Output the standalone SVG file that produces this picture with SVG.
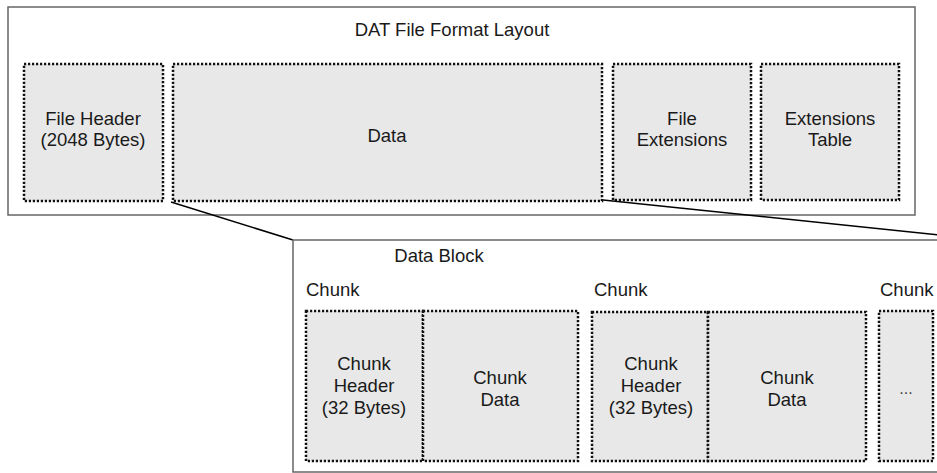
<svg xmlns="http://www.w3.org/2000/svg" width="937" height="473" viewBox="0 0 937 473">
<style>
  .frame { fill: #ffffff; stroke: #666666; stroke-width: 1.5; }
  .box { fill: #e8e8e8; stroke: #111111; stroke-width: 2.5; stroke-dasharray: 2.2 1.8; }
  .t { font-family: "Liberation Sans", Arial, sans-serif; font-size: 18.5px; fill: #1a1a1a; text-anchor: middle; }
  .tl { font-family: "Liberation Sans", Arial, sans-serif; font-size: 18.5px; fill: #1a1a1a; text-anchor: start; }
  .dots { font-family: "Liberation Sans", Arial, sans-serif; font-size: 16px; fill: #444444; text-anchor: middle; }
  .conn { stroke: #000000; stroke-width: 1.5; fill: none; }
</style>
<rect width="937" height="473" fill="#ffffff"/>

<g id="file-layout">
  <rect class="frame" x="8" y="7" width="907" height="208"/>
  <text class="t" x="452" y="36">DAT File Format Layout</text>
</g>
<g id="file-header">
  <rect class="box" x="24" y="64" width="139" height="137"/>
  <text class="t" x="93" y="125">File Header</text>
  <text class="t" x="93" y="146">(2048 Bytes)</text>
</g>
<g id="data">
  <rect class="box" x="173" y="64" width="429" height="137"/>
  <text class="t" x="387" y="142">Data</text>
</g>
<g id="file-extensions">
  <rect class="box" x="613" y="64" width="138" height="136"/>
  <text class="t" x="682" y="125">File</text>
  <text class="t" x="682" y="146">Extensions</text>
</g>
<g id="extensions-table">
  <rect class="box" x="761" y="64" width="138" height="136"/>
  <text class="t" x="830" y="125">Extensions</text>
  <text class="t" x="830" y="146">Table</text>
</g>

<g id="connectors">
  <line class="conn" x1="171" y1="202" x2="293" y2="240"/>
  <line class="conn" x1="603" y1="200" x2="940" y2="235"/>
</g>

<g id="data-block">
  <rect class="frame" x="293" y="240" width="660" height="232"/>
  <text class="t" x="439" y="262">Data Block</text>
</g>
<g id="chunk-1">
  <text class="tl" x="306" y="296">Chunk</text>
  <g id="chunk-1-header">
    <rect class="box" x="306" y="311" width="117" height="150"/>
    <text class="t" x="364" y="370">Chunk</text>
    <text class="t" x="364" y="392">Header</text>
    <text class="t" x="364" y="414">(32 Bytes)</text>
  </g>
  <g id="chunk-1-data">
    <rect class="box" x="423" y="311" width="155" height="150"/>
    <text class="t" x="500" y="384">Chunk</text>
    <text class="t" x="500" y="406">Data</text>
  </g>
</g>
<g id="chunk-2">
  <text class="tl" x="594" y="296">Chunk</text>
  <g id="chunk-2-header">
    <rect class="box" x="592" y="312" width="116" height="149"/>
    <text class="t" x="651" y="370">Chunk</text>
    <text class="t" x="651" y="392">Header</text>
    <text class="t" x="651" y="414">(32 Bytes)</text>
  </g>
  <g id="chunk-2-data">
    <rect class="box" x="708" y="312" width="158" height="149"/>
    <text class="t" x="787" y="384">Chunk</text>
    <text class="t" x="787" y="406">Data</text>
  </g>
</g>
<g id="chunk-3">
  <text class="tl" x="880" y="296">Chunk</text>
  <rect class="box" x="879" y="311" width="54" height="150"/>
  <text class="dots" x="906" y="394">...</text>
</g>
</svg>
